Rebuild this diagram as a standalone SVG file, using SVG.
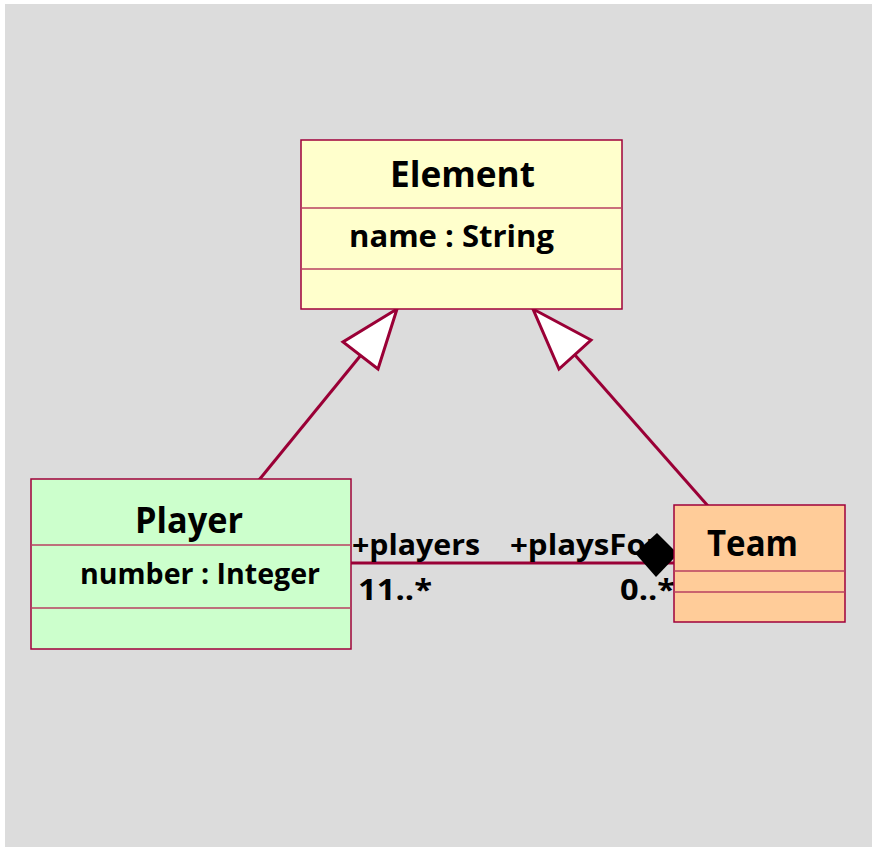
<svg xmlns="http://www.w3.org/2000/svg" width="872" height="847" viewBox="0 0 872 847">
<style>
.box{stroke:#A0003A;stroke-width:1.5}
.div{stroke:#B84060;stroke-width:1.5}
.t{font-family:"Open Sans","Liberation Sans",sans-serif;font-weight:bold;fill:#000}
.conn{stroke:#9A0036;stroke-width:3;fill:none}
</style>
<rect x="5" y="4" width="867" height="843" fill="#DCDCDC"/>
<g id="connectors">
<line class="conn" x1="259" y1="480" x2="361" y2="355"/>
<polygon points="397,309 343,342 378,369" fill="#FFFFFF" stroke="#9A0036" stroke-width="3" stroke-linejoin="miter"/>
<line class="conn" x1="708" y1="506" x2="575" y2="355"/>
<polygon points="533,309 591,340 559,369" fill="#FFFFFF" stroke="#9A0036" stroke-width="3" stroke-linejoin="miter"/>
<line class="conn" x1="351" y1="563" x2="676" y2="563" stroke-width="3.5"/>
<text class="t" x="352" y="555" font-size="28" textLength="128" lengthAdjust="spacingAndGlyphs">+players</text>
<text class="t" x="510" y="555" font-size="28" textLength="150" lengthAdjust="spacingAndGlyphs">+playsFor</text>
<polygon points="657,533 678,554 656,577 635,553" fill="#000"/>
<text class="t" x="358" y="600" font-size="28" textLength="74" lengthAdjust="spacingAndGlyphs">11..*</text>
<text class="t" x="620" y="600" font-size="28" textLength="55" lengthAdjust="spacingAndGlyphs">0..*</text>
</g>
<g id="Element">
<rect class="box" x="301" y="140" width="321" height="169" fill="#FFFFCC"/>
<line class="div" x1="301" y1="208" x2="622" y2="208"/>
<line class="div" x1="301" y1="269" x2="622" y2="269"/>
<text class="t" x="390" y="187" font-size="35" textLength="145" lengthAdjust="spacingAndGlyphs">Element</text>
<text class="t" x="349" y="247" font-size="31" textLength="205" lengthAdjust="spacingAndGlyphs">name : String</text>
</g>
<g id="Player">
<rect class="box" x="31" y="479" width="320" height="170" fill="#CCFFCC"/>
<line class="div" x1="31" y1="545" x2="351" y2="545"/>
<line class="div" x1="31" y1="608" x2="351" y2="608"/>
<text class="t" x="135" y="533" font-size="36" textLength="108" lengthAdjust="spacingAndGlyphs">Player</text>
<text class="t" x="80" y="584" font-size="28" textLength="240" lengthAdjust="spacingAndGlyphs">number : Integer</text>
</g>
<g id="Team">
<rect class="box" x="674" y="505" width="171" height="117" fill="#FFCC99"/>
<line class="div" x1="674" y1="571" x2="845" y2="571"/>
<line class="div" x1="674" y1="592" x2="845" y2="592"/>
<text class="t" x="707" y="556" font-size="36" textLength="91" lengthAdjust="spacingAndGlyphs">Team</text>
</g>
</svg>
